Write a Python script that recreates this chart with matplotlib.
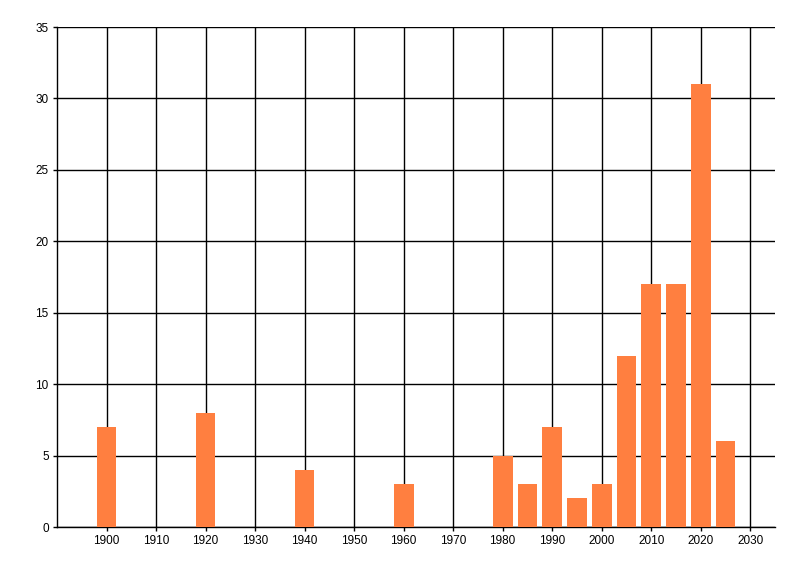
import matplotlib
matplotlib.use("Agg")
import matplotlib.pyplot as plt

years = [1900, 1920, 1940, 1960, 1980, 1985, 1990, 1995, 2000, 2005, 2010, 2015, 2020, 2025]
counts = [7, 8, 4, 3, 5, 3, 7, 2, 3, 12, 17, 17, 31, 6]
xticks = list(range(1900, 2031, 10))
yticks = list(range(0, 36, 5))

plt.rcParams['font.family'] = ['Liberation Sans', 'DejaVu Sans']
fig = plt.figure(figsize=(8, 5.76), dpi=100)
ax = fig.add_axes([57/800, 1-527/576, (775-57)/800, (527-27)/576])
ax.set_axisbelow(True)
ax.grid(True, color='black', linewidth=1)
ax.bar(years, counts, width=4, color='#FF7F40', zorder=3)
ax.set_xlim(1890, 2035)
ax.set_ylim(0, 35)
ax.set_xticks(xticks)
ax.set_yticks(yticks)
ax.tick_params(labelsize=8.5, length=3, width=1, color='black', pad=3)
for s in ['top', 'right']:
    ax.spines[s].set_visible(False)
for s in ['left', 'bottom']:
    ax.spines[s].set_linewidth(1)
fig.savefig('out.png', dpi=100)
